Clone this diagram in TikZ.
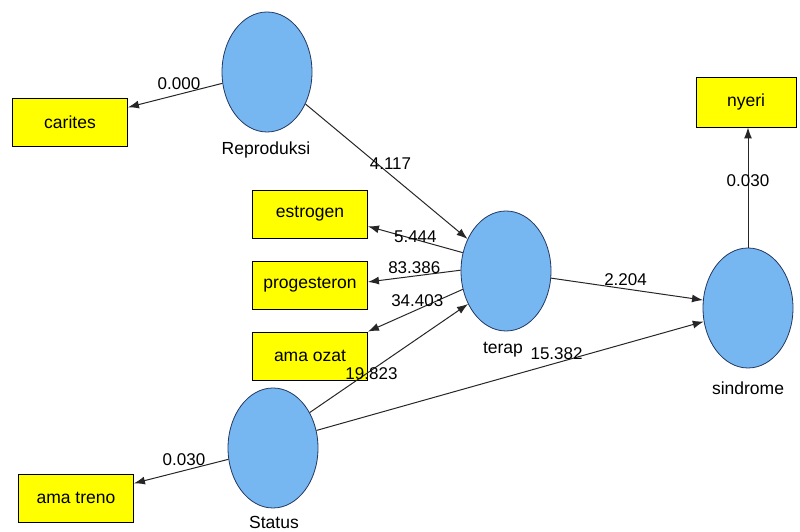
\documentclass[tikz,border=0pt]{standalone}
\usepackage{fontspec}
\setmainfont{Liberation Sans}
\usetikzlibrary{arrows.meta, shapes.geometric}
\definecolor{latentblue}{RGB}{118,183,242}
\definecolor{latentedge}{RGB}{35,55,95}
\definecolor{itemyellow}{RGB}{255,255,0}
\begin{document}
\begin{tikzpicture}[x=1pt, y=1pt,
                        latent/.style={
                            ellipse,
                            draw=latentedge,
                            fill=latentblue,
                            line width=0.8pt,
                            minimum width=90pt,
                            minimum height=120pt,
                            inner sep=0pt
                        },
                        indicator/.style={
                            draw,
                            fill=itemyellow,
                            line width=0.9pt,
                            minimum width=115pt,
                            minimum height=48pt,
                            inner sep=0pt,
                            font=\fontsize{17.5}{20}\selectfont
                        },
                        caption/.style={
                            font=\fontsize{17.5}{20}\selectfont,
                            inner sep=1pt
                        },
                        pathline/.style={
                            draw=black!85,
                            line width=1pt,
                            -{Latex[length=11pt,width=8pt]}
                        },
                        coef/.style={
                            font=\fontsize{17}{20}\selectfont,
                            inner sep=1pt
                        }
                    ]
                    \useasboundingbox (0,0) rectangle (800,532);

                    % Latent variables (blue ellipses)
                    \node[latent] (reproduksi) at (267,460) {};
                    \node[latent] (terap) at (506,261) {};
                    \node[latent] (status) at (273,84) {};
                    \node[latent] (sindrome) at (748,224) {};

                    \node[caption] at (266,382) {Reproduksi};
                    \node[caption] at (503,182) {terap};
                    \node[caption] at (274,10) {Status};
                    \node[caption] at (748,144) {sindrome};

                    % Indicators (yellow boxes)
                    \node[indicator] (carites) at (70,410) {carites};
                    \node[indicator] (estrogen) at (310,318) {estrogen};
                    \node[indicator] (progesteron) at (310,247) {progesteron};
                    \node[indicator] (amaozat) at (310,176) {ama ozat};
                    \node[indicator] (amatreno) at (76,34) {ama treno};
                    \node[indicator,
                        minimum width=100pt,
                        minimum height=50pt
                    ] (nyeri) at (746,430) {nyeri};

                    % Outer loadings
                    \draw[pathline] (reproduksi) -- (carites)
                        node[coef, pos=0.46, above=3pt] {0.000};
                    \draw[pathline] (status) -- (amatreno)
                        node[coef, pos=0.47, above=3pt] {0.030};
                    \draw[pathline] (terap.157) -- (estrogen.-12)
                        node[coef, pos=0.5, above=-5pt] {5.444};
                    \draw[pathline] (terap.179) -- (progesteron.3)
                        node[coef, pos=0.5, above=1pt] {83.386};
                    \draw[pathline] (terap.203) -- (amaozat.north east)
                        node[coef, pos=0.48, above=1pt] {34.403};
                    \draw[pathline] (sindrome.north) -- (sindrome.north |- nyeri.south)
                        node[coef, pos=0.56] {0.030};

                    % Inner paths
                    \draw[pathline] (reproduksi) -- (terap)
                        node[coef, pos=0.5, xshift=4pt, yshift=8pt] {4.117};
                    \draw[pathline] (status.44) -- (terap.221)
                        node[coef, pos=0.39, yshift=-3pt] {19.823};
                    \draw[pathline] (terap.-9) -- (sindrome.170)
                        node[coef, pos=0.49, above=2pt] {2.204};
                    \draw[pathline] (status.22) -- (sindrome.197)
                        node[coef, pos=0.62, above=2pt] {15.382};
                    \end{tikzpicture}
\end{document}
